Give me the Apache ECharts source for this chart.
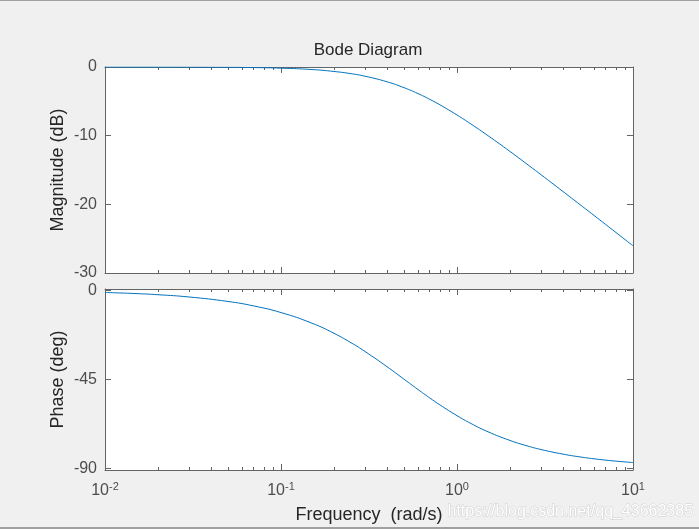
<!DOCTYPE html>
<html>
<head>
<meta charset="utf-8">
<script src="https://cdn.jsdelivr.net/npm/echarts@6/dist/echarts.min.js"></script>
<style>
html,body{margin:0;padding:0;background:#f0f0f0;}
#c{width:699px;height:529px;}
</style>
</head>
<body>
<div id="c"></div>
<script>
// Frequencies (rad/s)
var freq = [0.01, 0.015, 0.02, 0.03, 0.05, 0.07, 0.1, 0.15, 0.2, 0.25, 0.3, 0.4, 0.5, 0.6, 0.7, 0.8, 1, 1.2, 1.5, 2, 2.5, 3, 4, 5, 6, 7, 8, 10];
// Magnitude (dB)
var magnitude = [-0.002, -0.004, -0.007, -0.016, -0.043, -0.084, -0.17, -0.37, -0.65, -0.97, -1.34, -2.15, -3.01, -3.87, -4.71, -5.51, -6.99, -8.30, -10.0, -12.3, -14.15, -15.68, -18.13, -20.04, -21.61, -22.94, -24.10, -26.03];
// Phase (deg)
var phase = [-1.15, -1.72, -2.29, -3.43, -5.71, -7.97, -11.31, -16.70, -21.80, -26.57, -30.96, -38.66, -45.0, -50.19, -54.46, -57.99, -63.43, -67.38, -71.57, -75.96, -78.69, -80.54, -82.87, -84.29, -85.24, -85.91, -86.42, -87.14];
// Tick values
var xMajorTicks = [0.01, 0.1, 1, 10];
var xMinorTicks = [0.02,0.03,0.04,0.05,0.06,0.07,0.08,0.09,0.2,0.3,0.4,0.5,0.6,0.7,0.8,0.9,2,3,4,5,6,7,8,9];
var magTicks = [0, -10, -20, -30];
var phaseTicks = [0, -45, -90];

var axisColor = '#646464';
var labelColor = '#4d4d4d';
var font = 'Liberation Sans, Arial, sans-serif';

function xAx(grid, pos, ticks, len, showLine, showLabel) {
  var a = {
    type: 'log', logBase: 10, min: 0.01, max: 10, gridIndex: grid, position: pos,
    axisLine: {show: showLine, onZero: false, lineStyle: {color: axisColor, width: 1}},
    axisTick: {show: true, inside: true, length: len, customValues: ticks, lineStyle: {color: axisColor, width: 1}},
    splitLine: {show: false},
    axisLabel: {show: false}
  };
  if (showLabel) {
    a.axisLabel = {
      show: true, customValues: xMajorTicks, margin: 11, color: labelColor, fontFamily: font,
      formatter: function (v) {
        var e = Math.round(Math.log10(v));
        return '{b|10}{s|' + e + '}';
      },
      rich: {
        b: {fontSize: 16, color: labelColor, fontFamily: font},
        s: {fontSize: 11, color: labelColor, fontFamily: font, padding: [0, 0, 9, 0]}
      }
    };
    a.name = 'Frequency  (rad/s)';
    a.nameLocation = 'middle';
    a.nameGap = 36;
    a.nameMoveOverlap = false;
    a.nameTextStyle = {fontSize: 18, color: '#262626', fontFamily: font};
  }
  return a;
}

function yAx(grid, pos, min, max, ticks, showLabel, name) {
  var a = {
    type: 'value', gridIndex: grid, position: pos, min: min, max: max,
    axisLine: {show: true, onZero: false, lineStyle: {color: axisColor, width: 1}},
    axisTick: {show: true, inside: true, length: 6, customValues: ticks, lineStyle: {color: axisColor, width: 1}},
    splitLine: {show: false},
    axisLabel: {show: showLabel, customValues: ticks, margin: 8, fontSize: 16, color: labelColor, fontFamily: font}
  };
  if (name) {
    a.name = name;
    a.nameLocation = 'middle';
    a.nameGap = 38;
    a.nameMoveOverlap = false;
    a.nameTextStyle = {fontSize: 18, color: '#262626', fontFamily: font};
  }
  return a;
}

var chart = echarts.init(document.getElementById('c'), null, {renderer: 'canvas'});
chart.setOption({
  backgroundColor: '#f0f0f0',
  animation: false,
  title: {
    text: 'Bode Diagram', left: 363, top: 37, textAlign: 'center',
    textStyle: {fontSize: 17, fontWeight: 'normal', color: '#262626', fontFamily: font}
  },
  grid: [
    {left: 105, top: 67, width: 528, height: 206, show: true, backgroundColor: '#ffffff', borderWidth: 0},
    {left: 105, top: 289, width: 528, height: 181, show: true, backgroundColor: '#ffffff', borderWidth: 0}
  ],
  xAxis: [
    xAx(0, 'bottom', xMajorTicks, 6, true, false),
    xAx(0, 'bottom', xMinorTicks, 3, false, false),
    xAx(0, 'top', xMajorTicks, 6, true, false),
    xAx(0, 'top', xMinorTicks, 3, false, false),
    xAx(1, 'bottom', xMajorTicks, 6, true, true),
    xAx(1, 'bottom', xMinorTicks, 3, false, false),
    xAx(1, 'top', xMajorTicks, 6, true, false),
    xAx(1, 'top', xMinorTicks, 3, false, false)
  ],
  yAxis: [
    yAx(0, 'left', -30, 0, magTicks, true, 'Magnitude (dB)'),
    yAx(0, 'right', -30, 0, magTicks, false, null),
    yAx(1, 'left', -90.9, 0.6, phaseTicks, true, 'Phase (deg)'),
    yAx(1, 'right', -90.9, 0.6, phaseTicks, false, null)
  ],
  series: [
    {
      type: 'line', xAxisIndex: 0, yAxisIndex: 0, smooth: true, showSymbol: false,
      lineStyle: {color: '#0072BD', width: 1},
      data: freq.map(function (f, i) { return [f, magnitude[i]]; })
    },
    {
      type: 'line', xAxisIndex: 4, yAxisIndex: 2, smooth: true, showSymbol: false,
      lineStyle: {color: '#0072BD', width: 1},
      data: freq.map(function (f, i) { return [f, phase[i]]; })
    }
  ],
  graphic: [
    {type: 'rect', shape: {x: 0, y: 0, width: 699, height: 1}, style: {fill: '#a0a0a0'}},
    {type: 'rect', shape: {x: 0, y: 527, width: 699, height: 2}, style: {fill: '#a0a0a0'}},
    {type: 'text', left: 447, top: 503, style: {text: 'https://blog.csdn.net/qq_43662385', fontSize: 16, fontFamily: font, fill: '#ffffff', stroke: '#d0d0d0', lineWidth: 1}}
  ]
});
</script>
</body>
</html>
